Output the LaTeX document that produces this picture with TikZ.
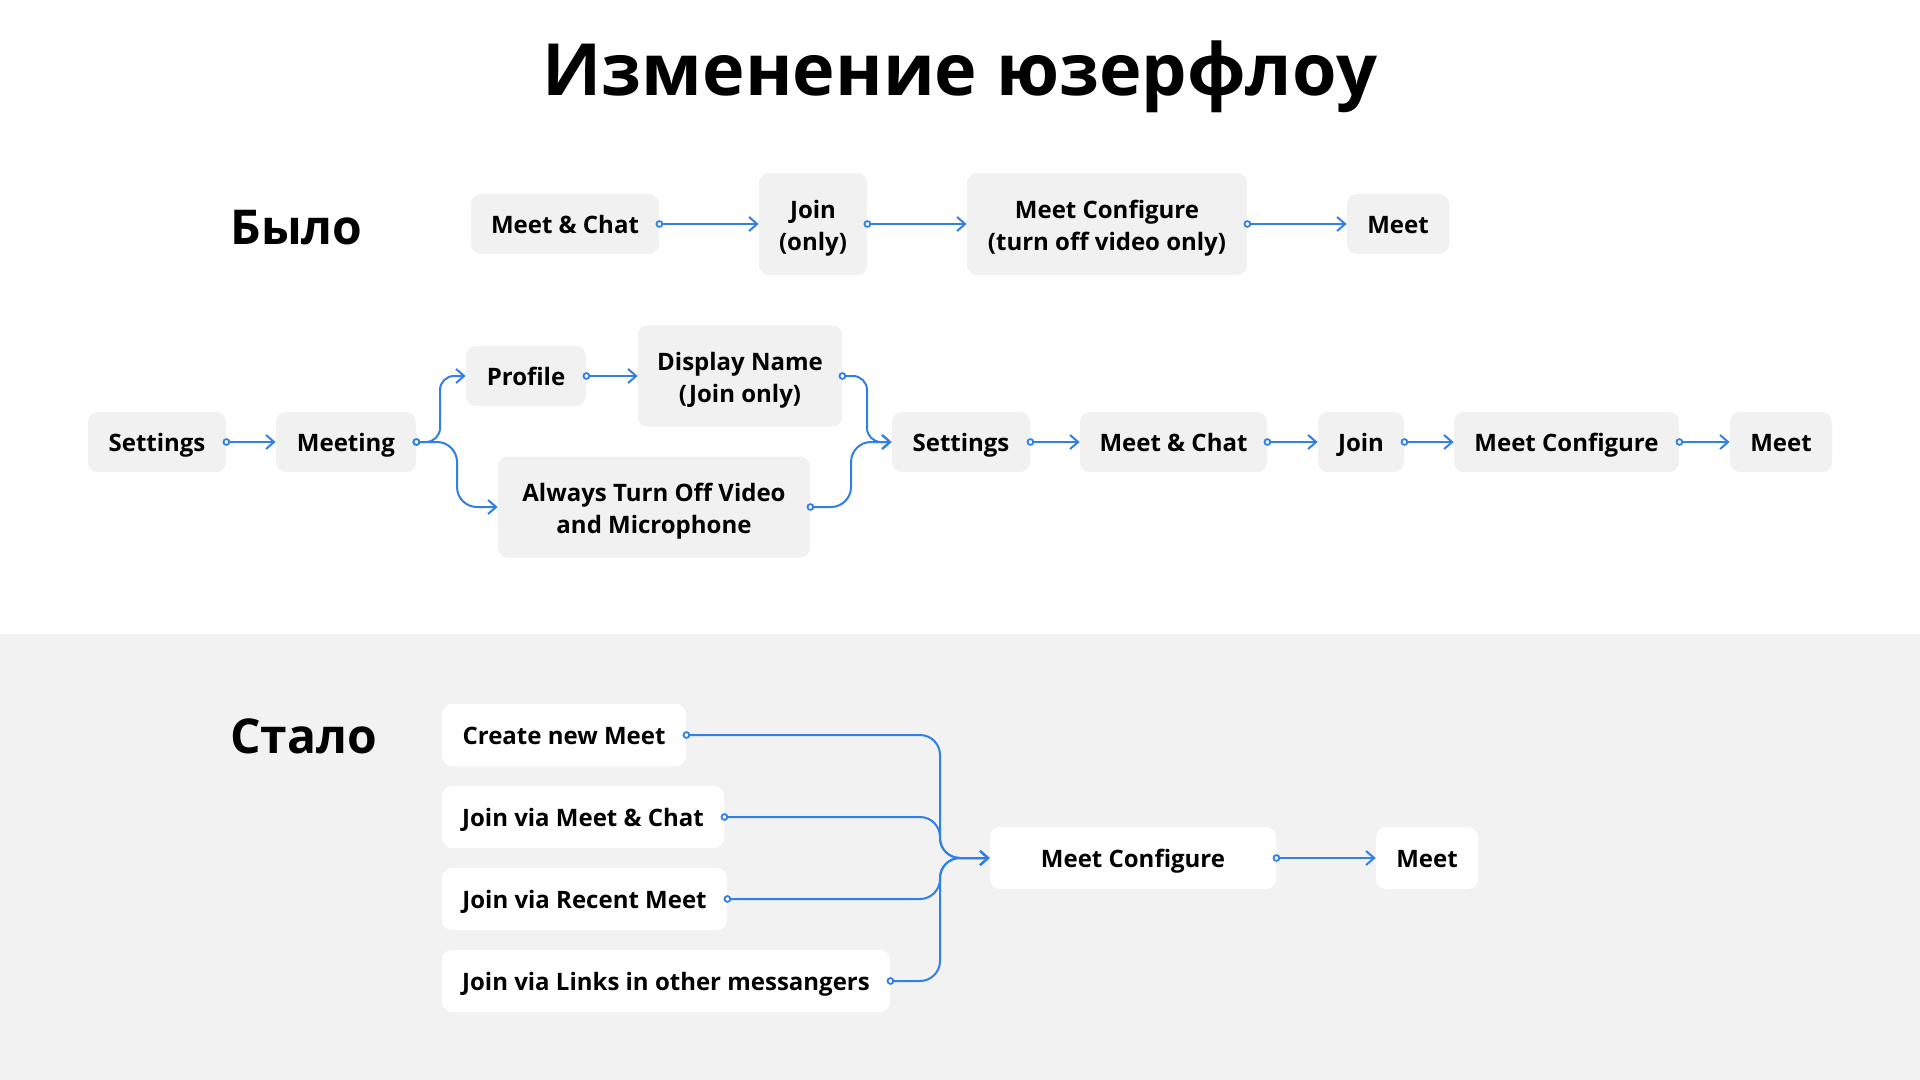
\documentclass[tikz,border=0pt]{standalone}
\usepackage{fontspec}
\setmainfont{Open Sans}
\usetikzlibrary{arrows.meta}
\definecolor{lineblue}{RGB}{48,128,232}
\definecolor{boxgray}{RGB}{241,241,241}
\definecolor{bggray}{RGB}{242,242,242}
\tikzset{
  box/.style={rounded corners=5pt, inner sep=0pt, align=center,
    font=\fontsize{12}{16}\selectfont\bfseries, text=black},
  oneline/.style={text height=9.4pt, text depth=0pt},
  twoline/.style={yshift=-2.3pt},
  graybox/.style={box, fill=boxgray},
  whitebox/.style={box, fill=white},
  heading/.style={anchor=base west, inner sep=0pt, font=\fontsize{24}{29}\selectfont\bfseries},
  conn/.style={draw=lineblue, line width=1pt,
    {Circle[length=3.8pt, fill=white, line width=0.9pt]}-{Straight Barb[length=4pt, width=7pt, line width=1pt]},
    shorten <=-1.9pt},
}
\begin{document}
\begin{tikzpicture}[x=0.5pt, y=-0.5pt]
\useasboundingbox (0,0) rectangle (1920,1080);
\fill[white] (0,0) rectangle (1920,634);
\fill[bggray] (0,634) rectangle (1920,1080);

\node[anchor=base, inner sep=0pt, font=\fontsize{36}{43}\selectfont\bfseries] (title) at (960,96) {Изменение юзерфлоу};
\node[heading] (was) at (230,245) {Было};
\node[heading] (now) at (230,753) {Стало};

% Row 1
\node[graybox, oneline, minimum width=94pt, minimum height=30pt] (a1) at (565,224) {Meet \& Chat};
\node[graybox, minimum width=54pt, minimum height=51pt] (a2) at (813,224) {};
\node[box, twoline] at (a2) {Join\\(only)};
\node[graybox, minimum width=140pt, minimum height=51pt] (a3) at (1107,224) {};
\node[box, twoline] at (a3) {Meet Configure\\(turn off video only)};
\node[graybox, oneline, minimum width=51pt, minimum height=30pt] (a4) at (1398,224) {Meet};

% Row 2
\node[graybox, oneline, minimum width=69pt, minimum height=30pt] (b1) at (157,442) {Settings};
\node[graybox, oneline, minimum width=70pt, minimum height=30pt] (b2) at (346,442) {Meeting};
\node[graybox, oneline, minimum width=60pt, minimum height=30pt] (b3) at (526,376) {Profile};
\node[graybox, minimum width=102pt, minimum height=51pt] (b4) at (740,376) {};
\node[box, twoline] at (b4) {Display Name\\(Join only)};
\node[graybox, minimum width=156pt, minimum height=50.5pt] (b5) at (654,507) {};
\node[box, twoline] at (b5) {Always Turn Off Video\\and Microphone};
\node[graybox, oneline, minimum width=69pt, minimum height=30pt] (b6) at (961,442) {Settings};
\node[graybox, oneline, minimum width=93.5pt, minimum height=30pt] (b7) at (1173.5,442) {Meet \& Chat};
\node[graybox, oneline, minimum width=43pt, minimum height=30pt] (b8) at (1361,442) {Join};
\node[graybox, oneline, minimum width=112.5pt, minimum height=30pt] (b9) at (1566.5,442) {Meet Configure};
\node[graybox, oneline, minimum width=51pt, minimum height=30pt] (b10) at (1781,442) {Meet};

% Stalo
\node[whitebox, oneline, minimum width=122pt, minimum height=31pt] (c1) at (564,735) {Create new Meet};
\node[whitebox, oneline, minimum width=141pt, minimum height=31pt] (c2) at (583,817) {Join via Meet \& Chat};
\node[whitebox, oneline, minimum width=142.5pt, minimum height=31pt] (c3) at (584.5,899) {Join via Recent Meet};
\node[whitebox, oneline, minimum width=224pt, minimum height=31pt] (c4) at (666,981) {Join via Links in other messangers};
\node[whitebox, oneline, minimum width=143pt, minimum height=31pt] (c5) at (1133,858) {Meet Configure};
\node[whitebox, oneline, minimum width=51pt, minimum height=31pt] (c6) at (1427,858) {Meet};

% Row 1 connectors
\draw[conn] (a1.east) -- (a2.west);
\draw[conn] (a2.east) -- (a3.west);
\draw[conn] (a3.east) -- (a4.west);

% Row 2 connectors
\draw[conn] (b1.east) -- (b2.west);
\draw[conn, rounded corners=7pt] (b2.east) -| (440,376) -- (b3.west);
\draw[conn, rounded corners=10pt] (b2.east) -| (457,507) -- (b5.west);
\draw[conn] (b3.east) -- (b4.west);
\draw[conn, rounded corners=7pt] (b4.east) -| (867,442) -- (b6.west);
\draw[conn, rounded corners=10pt] (b5.east) -| (851,442) -- (b6.west);
\draw[conn] (b6.east) -- (b7.west);
\draw[conn] (b7.east) -- (b8.west);
\draw[conn] (b8.east) -- (b9.west);
\draw[conn] (b9.east) -- (b10.west);

% Stalo connectors
\draw[conn, rounded corners=10pt] (c1.east) -| (940,858) -- (c5.west);
\draw[conn, rounded corners=10pt] (c2.east) -| (940,858) -- (c5.west);
\draw[conn, rounded corners=10pt] (c3.east) -| (940,858) -- (c5.west);
\draw[conn, rounded corners=10pt] (c4.east) -| (940,858) -- (c5.west);
\draw[conn] (c5.east) -- (c6.west);
\end{tikzpicture}
\end{document}
